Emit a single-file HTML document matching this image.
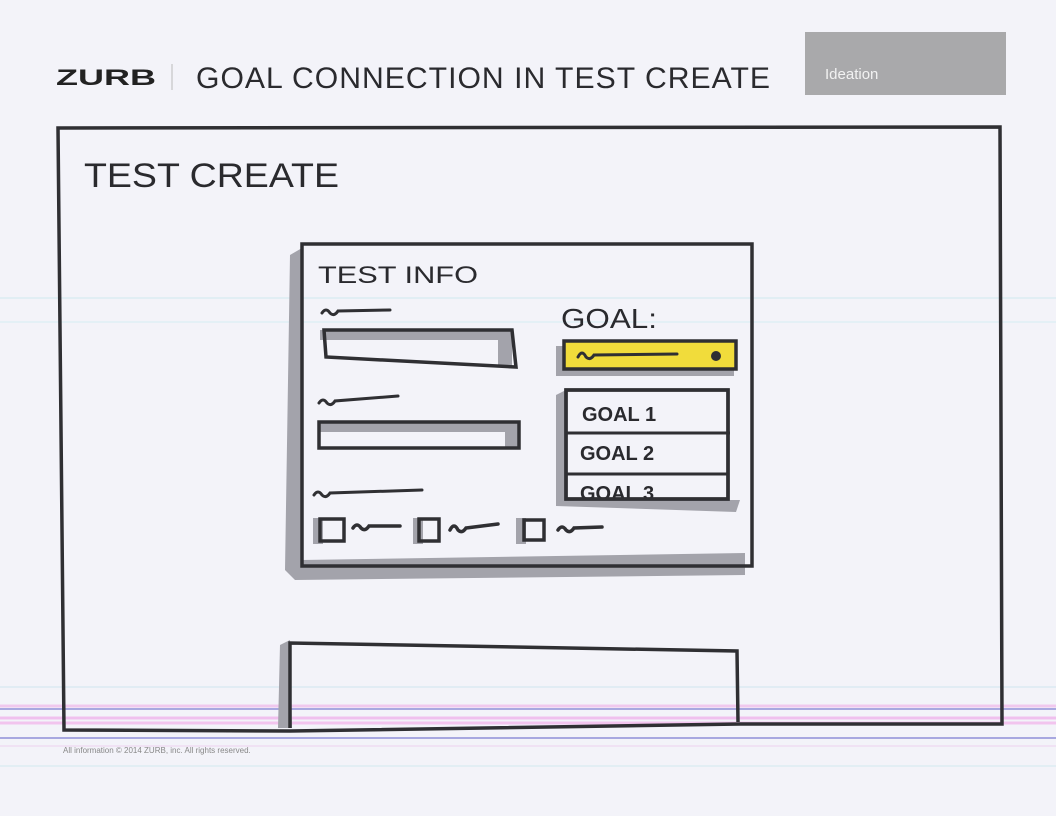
<!DOCTYPE html>
<html><head><meta charset="utf-8"><style>
html,body{margin:0;padding:0;background:#f3f3f9;}
svg{display:block}
text{font-family:"Liberation Sans",sans-serif;}
</style></head><body>
<svg width="1056" height="816" viewBox="0 0 1056 816" xmlns="http://www.w3.org/2000/svg">
<defs><clipPath id="c"><rect x="566" y="474" width="162" height="24"/></clipPath></defs>
<rect width="1056" height="816" fill="#f3f3f9"/>
<g stroke-width="1">
<line x1="0" y1="298" x2="1056" y2="298" stroke="#cfe9f0"/>
<line x1="0" y1="322" x2="1056" y2="322" stroke="#d6edf2"/>
<line x1="0" y1="687" x2="1056" y2="687" stroke="#cfe6f0"/>
<line x1="0" y1="706" x2="1056" y2="706" stroke="#f0c8ee" stroke-width="3"/>
<line x1="0" y1="709" x2="1056" y2="709" stroke="#a8a8e0" stroke-width="2"/>
<line x1="0" y1="718" x2="1056" y2="718" stroke="#f0c0ee" stroke-width="3"/>
<line x1="0" y1="723" x2="1056" y2="723" stroke="#f2c4ee" stroke-width="3"/>
<line x1="0" y1="738" x2="1056" y2="738" stroke="#a8a8e0" stroke-width="2"/>
<line x1="0" y1="746" x2="1056" y2="746" stroke="#ecd0ee"/>
<line x1="0" y1="766" x2="1056" y2="766" stroke="#d0e8f0"/>
</g>
<text x="56" y="85" font-size="22" font-weight="bold" fill="#222" textLength="100" lengthAdjust="spacingAndGlyphs">ZURB</text>
<line x1="172" y1="64" x2="172" y2="90" stroke="#bbb"/>
<text x="196" y="88" font-size="30" fill="#2a2a2e" letter-spacing="1" textLength="575" lengthAdjust="spacingAndGlyphs">GOAL CONNECTION IN TEST CREATE</text>
<rect x="805" y="32" width="201" height="63" fill="#a9a9ab"/>
<text x="825" y="79" font-size="15" fill="#f2f2f2">Ideation</text>
<g fill="none" stroke="#2f2f33" stroke-width="3.5" stroke-linecap="round">
<path d="M58 128 L1000 127 L1002 724 L740 724 L290 731 L64 730 Z"/>
</g>
<text x="84" y="187" font-size="34" fill="#2a2a2e" textLength="255" lengthAdjust="spacingAndGlyphs">TEST CREATE</text>
<path d="M290 255 L302 248 L302 560 L745 553 L745 575 L295 580 L285 570 Z" fill="#a3a3ab"/>
<rect x="302" y="244" width="450" height="322" fill="none" stroke="#2f2f33" stroke-width="3.5"/>
<text x="318" y="283" font-size="24" fill="#2a2a2e" textLength="160" lengthAdjust="spacingAndGlyphs">TEST INFO</text>
<g fill="none" stroke="#2f2f33" stroke-width="3" stroke-linecap="round">
<path d="M322 313 q4 -6 8 0 q4 4 8 -2 L390 310"/>
<path d="M319 403 q4 -6 8 0 q4 4 8 -2 L398 396"/>
<path d="M314 495 q4 -6 8 0 q4 4 8 -2 L422 490"/>
</g>
<path d="M320 330 L512 330 L512 366 L498 366 L498 340 L320 340 Z" fill="#a3a3ab"/>
<path d="M324 330 L512 330 L516 367 L326 357 Z" fill="none" stroke="#2f2f33" stroke-width="3.5"/>
<path d="M320 422 L518 422 L518 448 L505 448 L505 432 L320 432 Z" fill="#a3a3ab"/>
<rect x="319" y="422" width="200" height="26" fill="none" stroke="#2f2f33" stroke-width="3.5"/>
<g fill="#a3a3ab"><rect x="313" y="518" width="10" height="26"/><rect x="413" y="518" width="10" height="26"/><rect x="516" y="518" width="10" height="26"/></g>
<g fill="none" stroke="#2f2f33" stroke-width="3.5" stroke-linecap="round">
<rect x="320" y="519" width="24" height="22"/>
<rect x="419" y="519" width="20" height="22"/>
<rect x="524" y="520" width="20" height="20"/>
<path d="M353 528 q4 -6 8 0 q4 4 8 -2 L400 526"/>
<path d="M450 530 q4 -8 8 0 q4 4 8 -2 L498 524"/>
<path d="M558 530 q4 -6 8 0 q4 4 8 -2 L602 527"/>
</g>
<text x="561" y="328" font-size="28" fill="#2a2a2e" textLength="96" lengthAdjust="spacingAndGlyphs">GOAL:</text>
<rect x="556" y="346" width="178" height="30" fill="#a3a3ab"/>
<rect x="564" y="341" width="172" height="28" fill="#f1dc3b" stroke="#2f2f33" stroke-width="3.5"/>
<path d="M578 357 q4 -8 8 0 q4 4 8 -2 L677 354" fill="none" stroke="#2f2f33" stroke-width="3" stroke-linecap="round"/>
<circle cx="716" cy="356" r="5" fill="#2f2f33"/>
<path d="M556 395 L566 390 L566 500 L740 500 L736 512 L556 506 Z" fill="#a3a3ab"/>
<rect x="566" y="390" width="162" height="109" fill="#f3f3f9" stroke="#2f2f33" stroke-width="3.5"/>
<line x1="566" y1="433" x2="730" y2="433" stroke="#2f2f33" stroke-width="3"/>
<line x1="566" y1="474" x2="728" y2="474" stroke="#2f2f33" stroke-width="3"/>
<g font-size="20" fill="#2a2a2e" font-weight="bold">
<text x="582" y="421">GOAL  1</text>
<text x="580" y="460">GOAL  2</text>
<text x="580" y="500" clip-path="url(#c)">GOAL  3</text>
</g>
<rect x="566" y="390" width="162" height="109" fill="none" stroke="#2f2f33" stroke-width="3.5"/>
<path d="M280 645 L290 640 L292 728 L278 728 Z" fill="#a3a3ab"/>
<path d="M290 728 L290 643 L737 651 L738 722" fill="none" stroke="#2f2f33" stroke-width="3.5"/>
<text x="63" y="753" font-size="8" fill="#888">All information © 2014 ZURB, inc.  All rights reserved.</text>
</svg>
</body></html>
